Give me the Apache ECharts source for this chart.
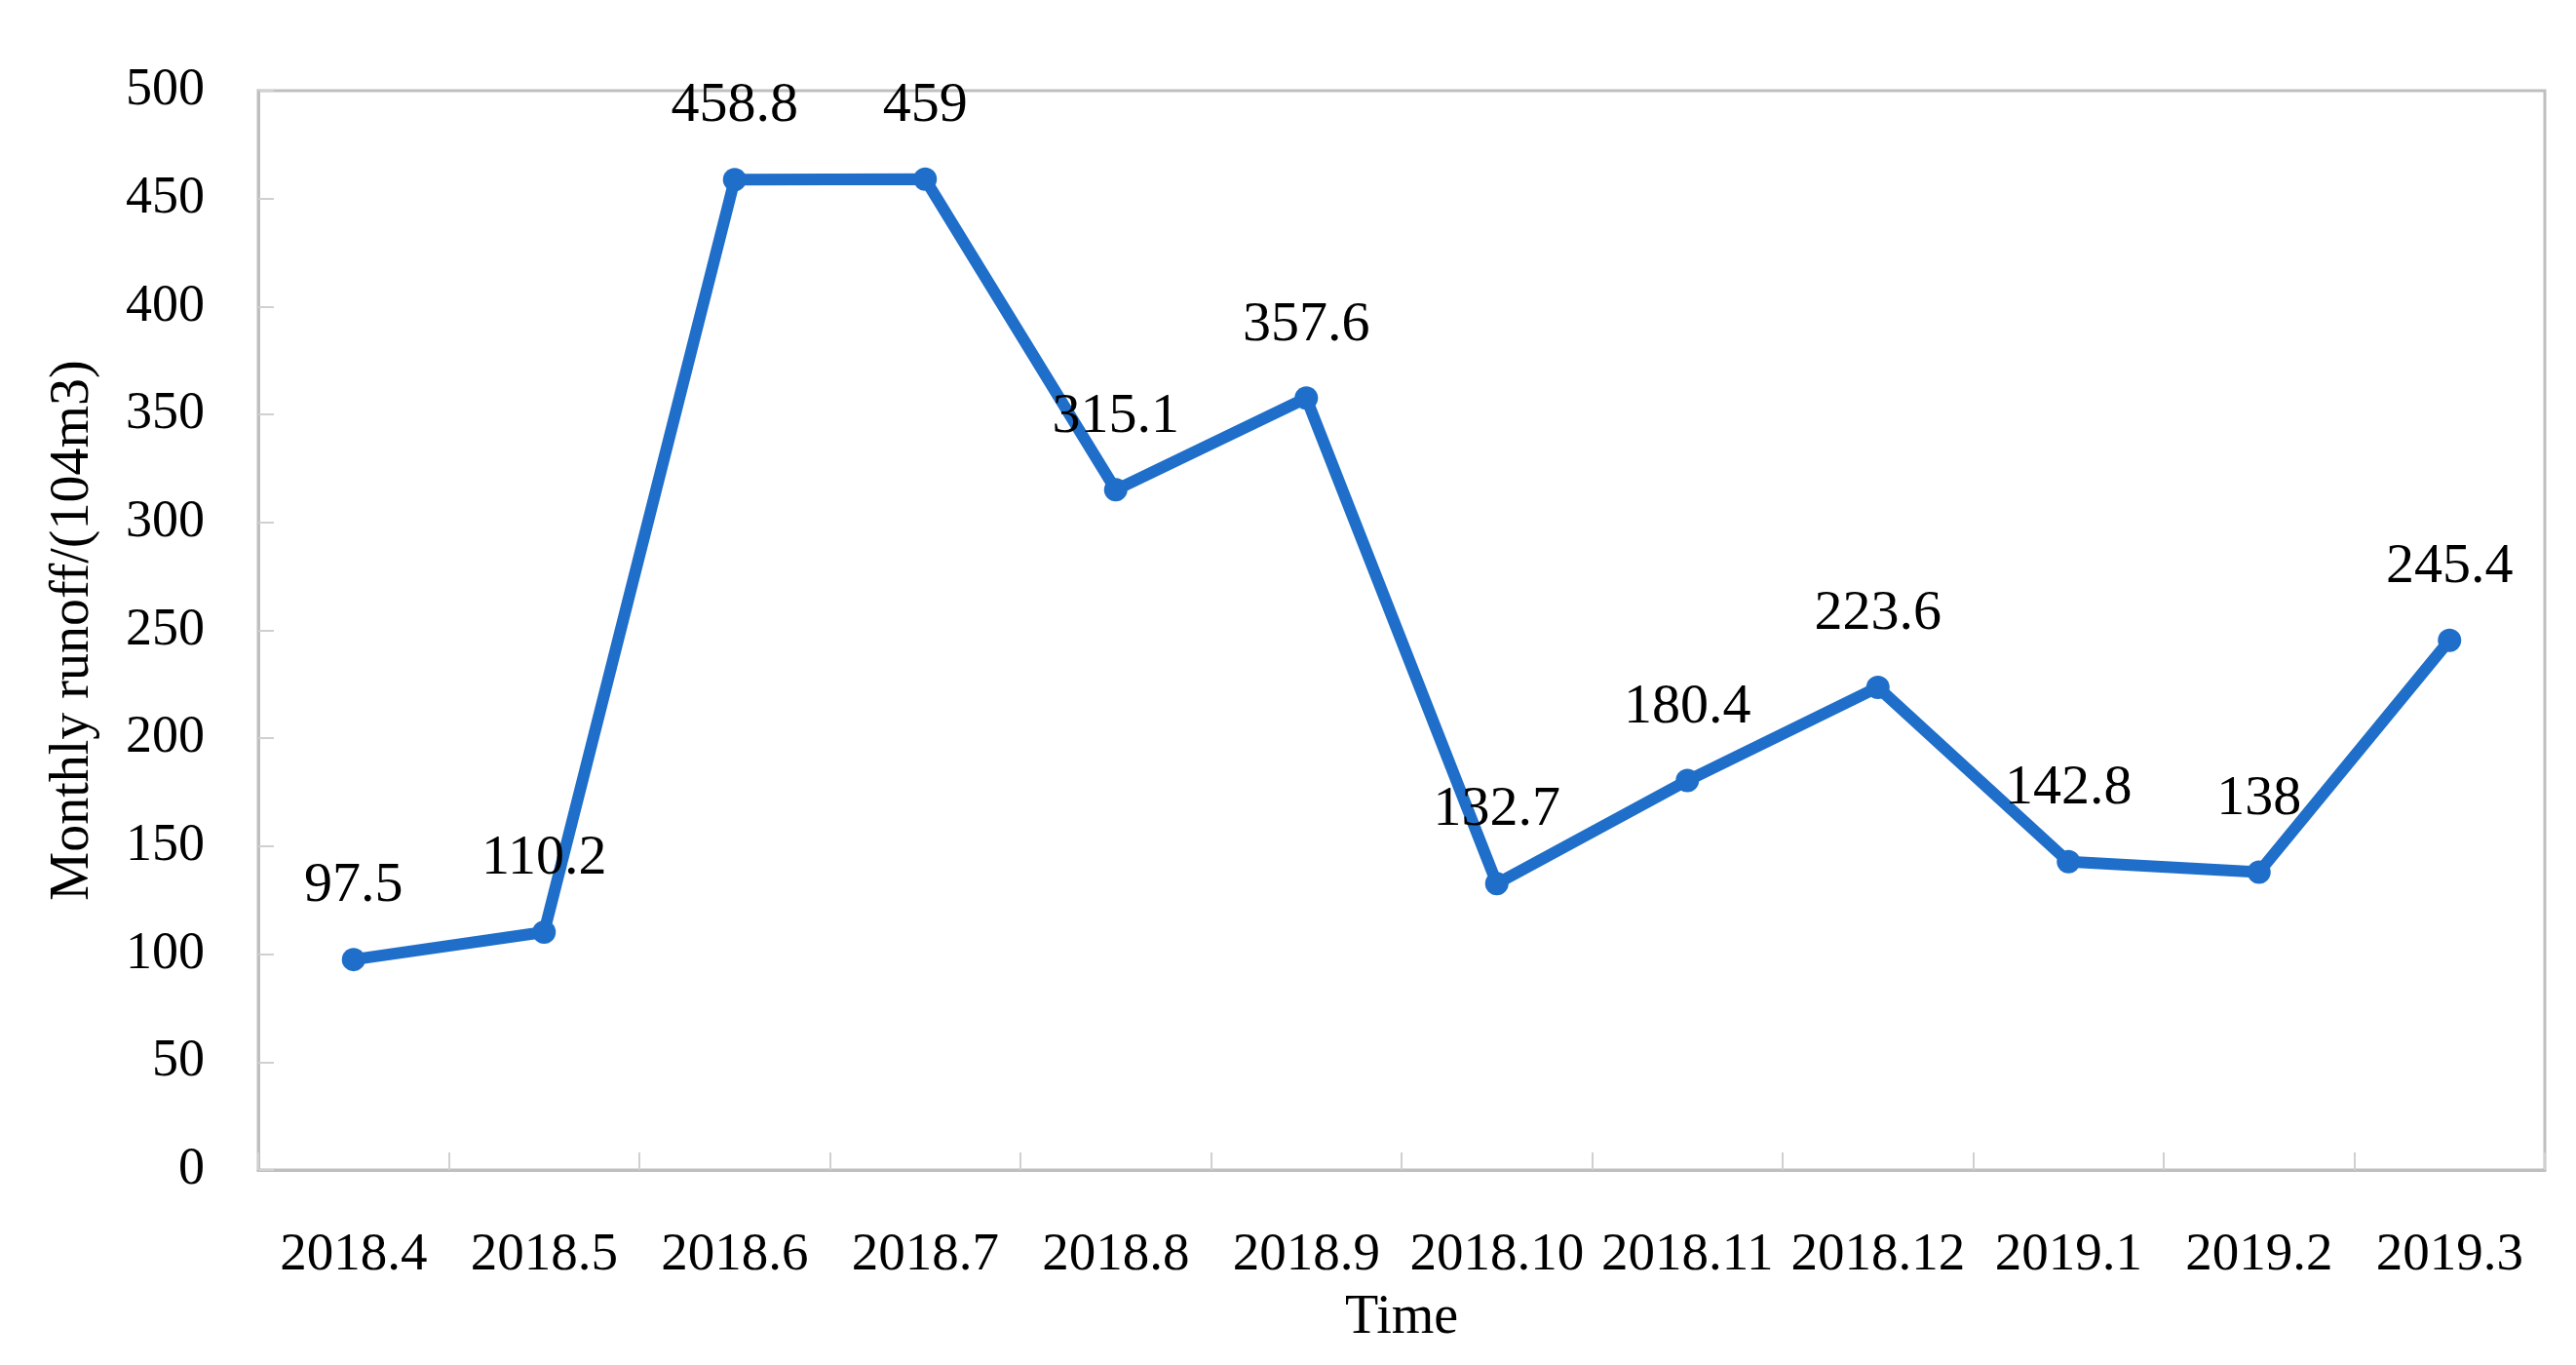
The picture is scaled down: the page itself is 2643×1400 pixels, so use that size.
<!DOCTYPE html>
<html><head><meta charset="utf-8">
<script src="https://cdn.jsdelivr.net/npm/echarts@6/dist/echarts.min.js"></script>
<style>html,body{margin:0;padding:0;background:#fff}#c{width:2643px;height:1400px}</style>
</head><body><div id="c"></div>
<script>
var categories = ['2018.4','2018.5','2018.6','2018.7','2018.8','2018.9','2018.10','2018.11','2018.12','2019.1','2019.2','2019.3'];
var runoff = [97.5, 110.2, 458.8, 459, 315.1, 357.6, 132.7, 180.4, 223.6, 142.8, 138, 245.4];
var yTicks = [0, 50, 100, 150, 200, 250, 300, 350, 400, 450, 500];

var font = '"Liberation Serif", "DejaVu Serif", serif';
var chart = echarts.init(document.getElementById('c'));
chart.setOption({
  animation: false,
  backgroundColor: '#fff',
  grid: { left: 265, top: 93, right: 32, bottom: 200, show: true, borderColor: '#bfbfbf', borderWidth: 3, backgroundColor: 'transparent' },
  xAxis: {
    type: 'category', data: categories, boundaryGap: true,
    name: 'Time', nameLocation: 'middle', nameGap: 124,
    nameTextStyle: { fontFamily: font, fontSize: 56, color: '#000' },
    axisLine: { lineStyle: { color: '#bfbfbf', width: 3 } },
    axisTick: { show: true, inside: true, length: 18, lineStyle: { color: '#d0d0d0', width: 2 } },
    axisLabel: { fontFamily: font, fontSize: 55, color: '#000', margin: 60, interval: 0 },
    splitLine: { show: false }
  },
  yAxis: {
    type: 'value', min: yTicks[0], max: yTicks[yTicks.length - 1], interval: 50,
    name: 'Monthly runoff/(104m3)', nameLocation: 'middle', nameGap: 162, nameRotate: 90,
    nameTextStyle: { fontFamily: font, fontSize: 56, color: '#000' },
    axisLine: { show: true, lineStyle: { color: '#bfbfbf', width: 3 } },
    axisTick: { show: true, inside: true, length: 16, lineStyle: { color: '#d0d0d0', width: 2 } },
    axisLabel: { fontFamily: font, fontSize: 54, color: '#000', margin: 55 },
    splitLine: { show: false }
  },
  series: [{
    type: 'line', data: runoff,
    lineStyle: { color: '#1f6fca', width: 12 },
    itemStyle: { color: '#1f6fca' },
    symbol: 'circle', symbolSize: 24, showAllSymbol: true,
    label: { show: true, position: 'top', distance: 34, fontFamily: font, fontSize: 58, color: '#000' }
  }]
});
</script></body></html>
